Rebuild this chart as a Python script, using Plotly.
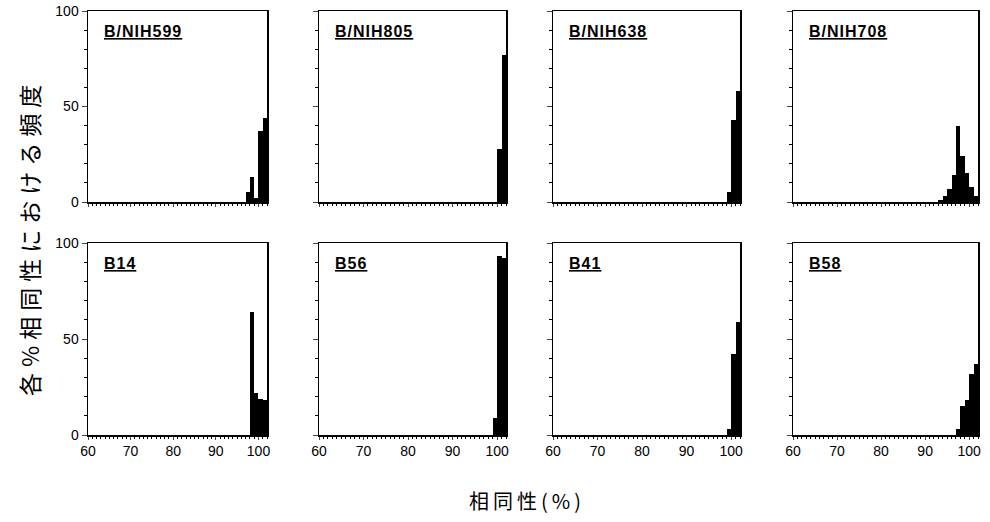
import plotly.graph_objects as go

# ---- data (histogram bins: lower edge of 1%-wide bin, frequency %) ----
PANEL_NAMES = ["B/NIH599", "B/NIH805", "B/NIH638", "B/NIH708",
               "B14", "B56", "B41", "B58"]

NIH599_BINS = [97, 98, 99, 100, 101]
NIH599_FREQ = [5, 13, 2, 37, 44]

NIH805_BINS = [100, 101]
NIH805_FREQ = [28, 77]

NIH638_BINS = [99, 100, 101]
NIH638_FREQ = [5, 43, 58]

NIH708_BINS = [93, 94, 95, 96, 97, 98, 99, 100, 101]
NIH708_FREQ = [1, 3, 7, 14, 40, 24, 15, 8, 3]

B14_BINS = [98, 99, 100, 101]
B14_FREQ = [64, 22, 19, 18]

B56_BINS = [99, 100, 101]
B56_FREQ = [9, 93, 92]

B41_BINS = [99, 100, 101]
B41_FREQ = [3, 42, 59]

B58_BINS = [97, 98, 99, 100, 101]
B58_FREQ = [3, 15, 18, 32, 37]

X_TICKS = [60, 70, 80, 90, 100]
Y_TICKS = [0, 50, 100]

SERIES = [(NIH599_BINS, NIH599_FREQ), (NIH805_BINS, NIH805_FREQ),
          (NIH638_BINS, NIH638_FREQ), (NIH708_BINS, NIH708_FREQ),
          (B14_BINS, B14_FREQ), (B56_BINS, B56_FREQ),
          (B41_BINS, B41_FREQ), (B58_BINS, B58_FREQ)]

W, H = 990, 522
COLS_PX = [(88, 267), (319, 506), (553, 740), (793, 978)]
ROWS_PX = [(11, 202), (243, 435)]

FONT = "Liberation Sans, Arial, sans-serif"
CJK = "Noto Sans CJK JP, sans-serif"

fig = go.Figure()
layout = dict(width=W, height=H, autosize=False,
              margin=dict(l=0, r=0, t=0, b=0, pad=0, autoexpand=False),
              plot_bgcolor="white", paper_bgcolor="white",
              showlegend=False, bargap=0, annotations=[])

for i, ((bins, freq), name) in enumerate(zip(SERIES, PANEL_NAMES)):
    r, c = divmod(i, 4)
    n = "" if i == 0 else str(i + 1)
    fig.add_trace(go.Bar(x=[b + 0.5 for b in bins], y=freq, width=1,
                         marker=dict(color="black", line=dict(width=0)),
                         xaxis="x" + n, yaxis="y" + n))
    x0, x1 = COLS_PX[c]
    y0, y1 = ROWS_PX[r]
    layout["xaxis" + n] = dict(
        domain=[x0 / W, x1 / W], anchor="y" + n, range=[60, 102],
        automargin=False,
        tickvals=X_TICKS, ticks="outside", ticklen=3, tickwidth=1,
        showticklabels=(r == 1), tickfont=dict(family=FONT, size=14, color="black"),
        showline=True, linecolor="black", linewidth=1.5, mirror=True,
        showgrid=False, zeroline=False, fixedrange=True,
        minor=dict(dtick=1, tick0=60, ticks="outside", ticklen=2, tickcolor="black"))
    layout["yaxis" + n] = dict(
        domain=[1 - y1 / H, 1 - y0 / H], anchor="x" + n, range=[0, 100],
        automargin=False,
        tickvals=Y_TICKS, ticks="outside", ticklen=5, tickwidth=1,
        showticklabels=(c == 0), tickfont=dict(family=FONT, size=14, color="black"),
        showline=True, linecolor="black", linewidth=1.5, mirror=True,
        showgrid=False, zeroline=False, fixedrange=True,
        minor=dict(dtick=10, tick0=0, ticks="outside", ticklen=3, tickcolor="black"))
    layout["annotations"].append(dict(
        text='<span style="letter-spacing:1px"><u><b>' + name + "</b></u></span>",
        xref="paper", yref="paper",
        x=(x0 + 14) / W, y=1 - (y0 + 20) / H, xanchor="left", yanchor="middle",
        showarrow=False, font=dict(family=FONT, size=16, color="black")))

layout["annotations"].append(dict(
    text='<span style="letter-spacing:6px">各%相同性における頻度</span>',
    xref="paper", yref="paper", x=29 / W, y=1 - 238 / H, textangle=-90,
    xanchor="center", yanchor="middle", showarrow=False,
    font=dict(family=CJK, size=23, color="black")))
layout["annotations"].append(dict(
    text='<span style="letter-spacing:4px">相同性(%)</span>',
    xref="paper", yref="paper", x=527 / W, y=1 - 500 / H,
    xanchor="center", yanchor="middle", showarrow=False,
    font=dict(family=CJK, size=20, color="black")))

fig.update_layout(**layout)
fig.write_html("out.html",
               config=dict(displayModeBar=False, staticPlot=True),
               post_script="document.body.style.margin='0';"
                           "document.body.style.overflow='hidden';")
